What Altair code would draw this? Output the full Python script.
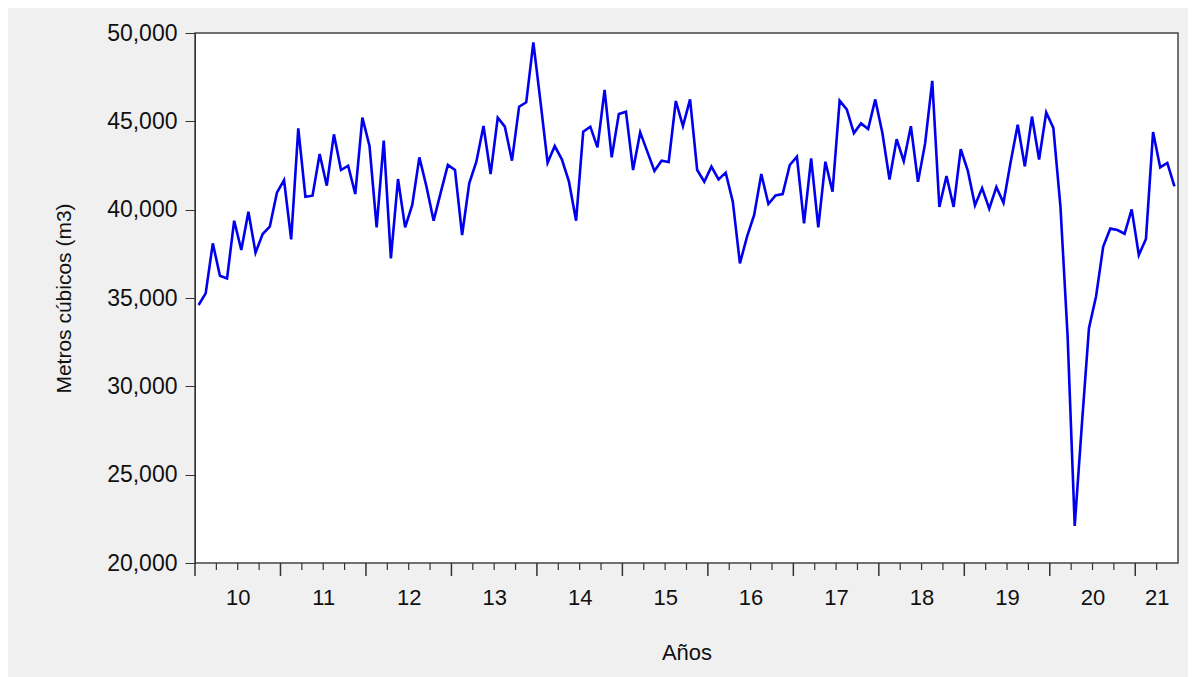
import altair as alt
import pandas as pd

values = [
34603,35263,38093,36263,36112,39376,37716,39886,37565,38622,39037,40962,
41678,38320,44603,40735,40792,43150,41358,44264,42245,42490,40886,45207,
43603,39000,43905,37244,41735,39000,40263,42962,41301,39376,40980,42528,
42245,38565,41490,42716,44735,42018,45207,44697,42773,45830,46075,49472,
46113,42660,43603,42848,41584,39376,44415,44697,43528,46773,42962,45415,
45547,42245,44377,43283,42188,42773,42697,46151,44735,46245,42245,41584,
42433,41716,42094,40452,36961,38471,39697,42018,40320,40810,40886,42528,
42999,39225,42905,39000,42716,41018,46170,45679,44335,44880,44568,46241,
44335,41709,43985,42740,44724,41573,43752,47291,40153,41904,40153,43421,
42196,40250,41223,40056,41281,40387,42682,44802,42448,45269,42837,45502,
44627,40153,32860,22104,27803,33287,35096,37916,38928,38850,38636,40017,
37430,38344,44393,42390,42643,41320,
]
years = list(range(2010, 2022))
yticks = [20000, 25000, 30000, 35000, 40000, 45000, 50000]

df = pd.DataFrame({"t": [2010 + (i + 0.5) / 12 for i in range(len(values))], "v": values})
major = pd.DataFrame({"t": years})
minor = pd.DataFrame({"t": [y + q / 4 for y in years for q in (1, 2, 3) if y + q / 4 < 2021.5]})

xs = alt.Scale(domain=[2010, 2021.5], nice=False, zero=False)
ys = alt.Scale(domain=[20000, 50000], nice=False, zero=False)
F = "Liberation Sans"

xaxis = alt.Axis(values=[y + 0.5 for y in years[:-1]] + [2021.25], tickSize=0, grid=False,
                 domain=False, labelExpr="format(floor(datum.value) % 100, '02d')",
                 labelFontSize=22, labelPadding=24, titleFontSize=22, titlePadding=34,
                 titleFontWeight="normal", labelColor="#111", titleColor="#111",
                 labelFont=F, titleFont=F)
X = alt.X("t:Q", scale=xs, title="Años", axis=xaxis)

line = alt.Chart(df).mark_line(color="#0000ee", strokeWidth=2.6).encode(
    x=X,
    y=alt.Y("v:Q", scale=ys, title="Metros cúbicos (m3)",
            axis=alt.Axis(values=yticks, labelExpr="format(datum.value, ',')", grid=False,
                          tickSize=10, tickColor="#333", domainColor="#333", labelFontSize=23,
                          labelPadding=8, titleFontSize=21, titlePadding=32, titleFontWeight="normal",
                          labelColor="#111", titleColor="#111", labelFont=F, titleFont=F)),
)
majt = alt.Chart(major).mark_rule(color="#333", strokeWidth=1.5).encode(
    x=X, y=alt.value(530), y2=alt.value(543))
mint = alt.Chart(minor).mark_rule(color="#333", strokeWidth=1.2).encode(
    x=X, y=alt.value(530), y2=alt.value(537))

chart = alt.layer(line, majt, mint).properties(
    width=983, height=530, background="#f0f0f0",
    padding={"left": 187, "top": 25, "right": 10, "bottom": 115},
    autosize=alt.AutoSizeParams(type="none"),
).configure_view(stroke="#444", strokeWidth=1.5, fill="white")

chart.save("out.html", embed_options={"renderer": "svg", "actions": False})
